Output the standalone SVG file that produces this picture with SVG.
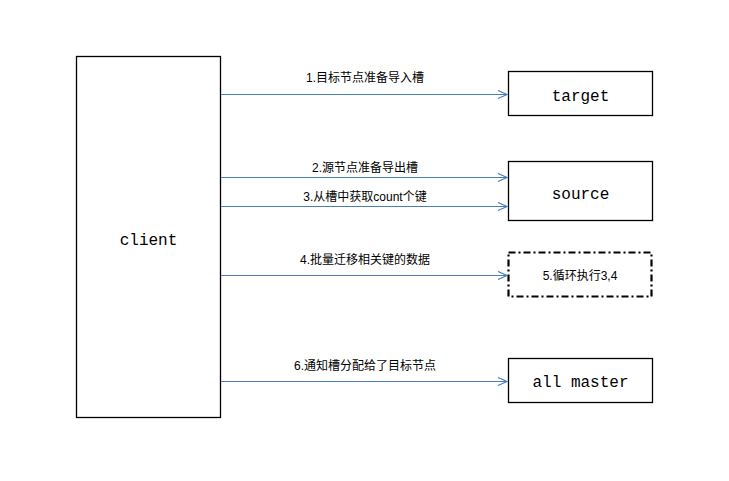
<svg xmlns="http://www.w3.org/2000/svg" width="729" height="481" viewBox="0 0 729 481">
<style>
.box{fill:#fff;stroke:#000;stroke-width:1.3}
.dash{fill:#fff;stroke:#000;stroke-width:2.2;stroke-dasharray:7 3 2 3}
.node{font-family:"Liberation Mono","Noto Sans CJK SC",monospace;font-size:16px;fill:#000;text-anchor:middle}
.lbl{font-family:"Liberation Sans","Noto Sans CJK SC",sans-serif;font-size:12px;fill:#000;text-anchor:middle}
.conn{stroke:#4a7ebb;stroke-width:1.2;fill:none;marker-end:url(#arr)}
</style>
<defs>
<marker id="arr" markerWidth="12" markerHeight="10" refX="10" refY="5" orient="auto" markerUnits="userSpaceOnUse">
<path d="M1,1 L10,5 L1,9" fill="none" stroke="#4a7ebb" stroke-width="1.2"/>
</marker>
</defs>
<rect width="729" height="481" fill="#fff"/>
<g id="client"><rect class="box" x="76.5" y="56.5" width="144" height="361"/><text class="node" x="148.5" y="245">client</text></g>
<g id="target"><rect class="box" x="508.5" y="71.5" width="144" height="44"/><text class="node" x="580.5" y="101">target</text></g>
<g id="source"><rect class="box" x="508.5" y="161.5" width="144" height="59"/><text class="node" x="580.5" y="199">source</text></g>
<g id="loop"><rect class="dash" x="508.5" y="252.5" width="143" height="44"/><text class="lbl" x="580" y="280">5.循环执行3,4</text></g>
<g id="allmaster"><rect class="box" x="508.5" y="358.5" width="144" height="44"/><text class="node" x="580.5" y="387">all master</text></g>
<g id="connectors">
<line class="conn" x1="221" y1="94.5" x2="507" y2="94.5"/>
<line class="conn" x1="221" y1="177.5" x2="507" y2="177.5"/>
<line class="conn" x1="221" y1="206.5" x2="507" y2="206.5"/>
<line class="conn" x1="221" y1="275.5" x2="507" y2="275.5"/>
<line class="conn" x1="221" y1="381.5" x2="507" y2="381.5"/>
<text class="lbl" x="365" y="82">1.目标节点准备导入槽</text>
<text class="lbl" x="365" y="172">2.源节点准备导出槽</text>
<text class="lbl" x="365" y="201">3.从槽中获取count个键</text>
<text class="lbl" x="365" y="264">4.批量迁移相关键的数据</text>
<text class="lbl" x="365" y="370">6.通知槽分配给了目标节点</text>
</g>
</svg>
